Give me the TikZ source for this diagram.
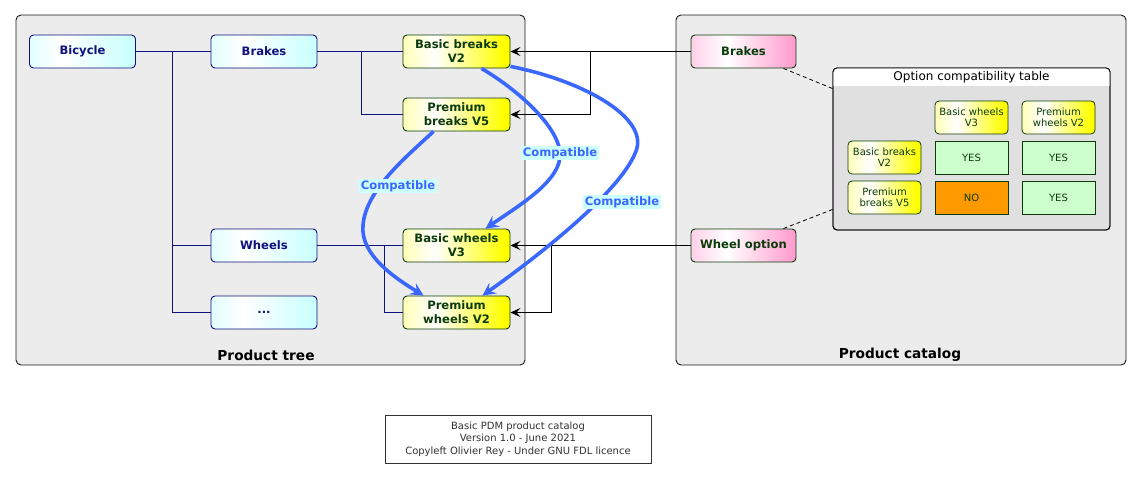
\documentclass[tikz,border=0pt]{standalone}
\usepackage{fontspec}
\setmainfont{DejaVu Sans}
\usetikzlibrary{arrows.meta,calc}
\definecolor{contfill}{HTML}{ECECEC}
\definecolor{navyc}{HTML}{10107F}
\definecolor{dgreen}{HTML}{0B3B0B}
\definecolor{cyL}{HTML}{E2FFFF}
\definecolor{cyR}{HTML}{C8FFFF}
\definecolor{yeL}{HTML}{FFFFB8}
\definecolor{yeR}{HTML}{FFFF00}
\definecolor{piL}{HTML}{FFD0E8}
\definecolor{piR}{HTML}{FF99CC}
\definecolor{cblue}{HTML}{3A68FF}
\definecolor{lblbg}{HTML}{CCFFFF}
\definecolor{tblgray}{HTML}{E0E0E0}
\definecolor{yesc}{HTML}{CCFFCC}
\definecolor{noc}{HTML}{FF9900}
\pgfdeclarehorizontalshading{cyanshade}{100bp}{color(0bp)=(cyL); color(25bp)=(cyL); color(40bp)=(white); color(75bp)=(cyR); color(100bp)=(cyR)}
\pgfdeclarehorizontalshading{yelshade}{100bp}{color(0bp)=(yeL); color(25bp)=(yeL); color(40bp)=(white); color(72bp)=(yeR); color(100bp)=(yeR)}
\pgfdeclarehorizontalshading{pinkshade}{100bp}{color(0bp)=(piL); color(25bp)=(piL); color(42bp)=(white); color(75bp)=(piR); color(100bp)=(piR)}
\tikzset{
  container/.style={draw=black!90, fill=contfill, rounded corners=5pt, line width=0.9pt, inner sep=0pt},
  boldtxt/.style={font=\fontsize{11.6}{14}\selectfont\bfseries},
  tnode/.style={draw=navyc, line width=0.9pt, rounded corners=4pt, shading=cyanshade, minimum width=106pt, minimum height=33pt, inner sep=0pt, boldtxt, text=navyc, align=center},
  ynode/.style={draw=dgreen, line width=0.9pt, rounded corners=4pt, shading=yelshade, minimum width=107pt, minimum height=33pt, inner sep=0pt, boldtxt, text=dgreen, align=center},
  pnode/.style={draw=dgreen, line width=0.9pt, rounded corners=4pt, shading=pinkshade, minimum width=105pt, minimum height=33pt, inner sep=0pt, boldtxt, text=dgreen, align=center},
  cell/.style={draw=dgreen, line width=0.8pt, minimum width=73pt, minimum height=33pt, inner sep=0pt, font=\fontsize{10}{10.8}\selectfont, text=dgreen, align=center},
  ycell/.style={cell, rounded corners=4pt, shading=yelshade},
  treeline/.style={draw=navyc, line width=0.9pt},
  catline/.style={draw=black, line width=1pt},
  catarrow/.style={catline, -{Stealth[length=10pt,width=9pt,inset=4pt]}},
  compat/.style={draw=cblue, line width=3.6pt, -{Stealth[length=13pt,width=13pt,inset=5pt]}},
  compatlbl/.style={fill=lblbg, text=cblue, font=\fontsize{11.6}{13}\selectfont\bfseries, inner sep=1.5pt},
  notelink/.style={draw=black, line width=0.8pt, dash pattern=on 4pt off 3pt},
  ttl/.style={font=\fontsize{13.7}{16}\selectfont\bfseries}
}
\begin{document}
\begin{tikzpicture}[x=1pt,y=-1pt]
\useasboundingbox (0,0) rectangle (1141,479);
% containers
\node[container, minimum width=509pt, minimum height=350pt] (ptree) at (270.5,190) {};
\node[container, minimum width=450pt, minimum height=350pt] (pcat) at (901,190) {};
\node[ttl] (ttree) at (266,355) {Product tree};
\node[ttl] (tcat) at (900,355) {Product catalog};
% tree nodes
\node[tnode] (bicycle) at (82.5,51.5) {Bicycle};
\node[tnode] (brakes) at (264,51.5) {Brakes};
\node[tnode] (wheels) at (264,245.5) {Wheels};
\node[tnode] (etc) at (264,312.5) {...};
\node[ynode] (bb) at (456.5,51.5) {Basic breaks\\V2};
\node[ynode] (pb) at (456.5,114.5) {Premium\\breaks V5};
\node[ynode] (bw) at (456.5,245.5) {Basic wheels\\V3};
\node[ynode] (pw) at (456.5,312.5) {Premium\\wheels V2};
% catalog nodes
\node[pnode] (cbrakes) at (743.5,51.5) {Brakes};
\node[pnode] (cwheel) at (743.5,245.5) {Wheel option};
% tree lines
\coordinate (j0) at (172,51.5);
\coordinate (j1) at (361,51.5);
\coordinate (j2) at (384,245.5);
\draw[treeline] (bicycle.east) -- (brakes.west);
\draw[treeline] (j0) |- (wheels.west);
\draw[treeline] (j0) |- (etc.west);
\draw[treeline] (brakes.east) -- (bb.west);
\draw[treeline] (j1) |- (pb.west);
\draw[treeline] (wheels.east) -- (bw.west);
\draw[treeline] (j2) |- (pw.west);
% catalog arrows
\coordinate (k1) at (590,51.5);
\coordinate (k2) at (551,245.5);
\draw[catline] (cbrakes.west) -- (k1);
\draw[catarrow] (k1) -- (bb.east);
\draw[catarrow] (k1) |- (pb.east);
\draw[catline] (cwheel.west) -- (k2);
\draw[catarrow] (k2) -- (bw.east);
\draw[catarrow] (k2) |- (pw.east);
% compatibility table
\node[draw=black, line width=0.9pt, rounded corners=4pt, fill=tblgray, minimum width=277pt, minimum height=162pt, inner sep=0pt] (tbl) at (971.5,149) {};
\begin{scope}
\clip[rounded corners=4pt] (833,68) rectangle (1110,230);
\fill[white] (833,68) rectangle (1110,86);
\end{scope}
\draw[line width=0.9pt, rounded corners=4pt] (833,68) rectangle (1110,230);
\node[font=\fontsize{12}{14}\selectfont] (tbltitle) at (971.5,77.5) {Option compatibility table};
\node[ycell] (h1) at (971.5,117.5) {Basic wheels\\V3};
\node[ycell] (h2) at (1058.5,117.5) {Premium\\wheels V2};
\node[ycell] (r1) at (884.5,157.5) {Basic breaks\\V2};
\node[ycell] (r2) at (884.5,197.5) {Premium\\breaks V5};
\node[cell, fill=yesc] (c11) at (971.5,157.5) {YES};
\node[cell, fill=yesc] (c12) at (1058.5,157.5) {YES};
\node[cell, fill=noc] (c21) at (971.5,197.5) {NO};
\node[cell, fill=yesc] (c22) at (1058.5,197.5) {YES};
\draw[notelink] ($(cbrakes.south east)+(-13,0)$) -- ($(tbl.north west)+(0,21)$);
\draw[notelink] ($(cwheel.north east)+(-13,0)$) -- ($(tbl.south west)+(0,-21)$);
% compatible curves
\coordinate (m1) at (560,153);
\coordinate (m2) at (637,148);
\coordinate (m3) at (363,225);
\draw[compat] ($(bb.south east)+(-29,0)$) .. controls (515,88) and (558,125) .. (m1)
   .. controls (562,180) and (520,205) .. ($(bw.north east)+(-25,0)$);
\draw[compat] ($(bb.south east)+(0,-2)$) .. controls (580,80) and (645,115) .. (m2)
   .. controls (625,190) and (530,262) .. ($(pw.north east)+(-28,0)$);
\draw[compat] ($(pb.south)+(-23,0)$) .. controls (405,158) and (366,190) .. (m3)
   .. controls (360,255) and (395,278) .. ($(pw.north west)+(21,0)$);
\node[compatlbl] (l1) at (m1) {Compatible};
\node[compatlbl] (l2) at (622,202) {Compatible};
\node[compatlbl] (l3) at (398,186) {Compatible};
% footer
\node[draw=black!80, line width=0.8pt, fill=white, minimum width=266pt, minimum height=48pt, align=center, font=\fontsize{10}{12.5}\selectfont, text=black!80] (footer) at (518,439) {Basic PDM product catalog\\Version 1.0 - June 2021\\Copyleft Olivier Rey - Under GNU FDL licence};
\end{tikzpicture}
\end{document}
